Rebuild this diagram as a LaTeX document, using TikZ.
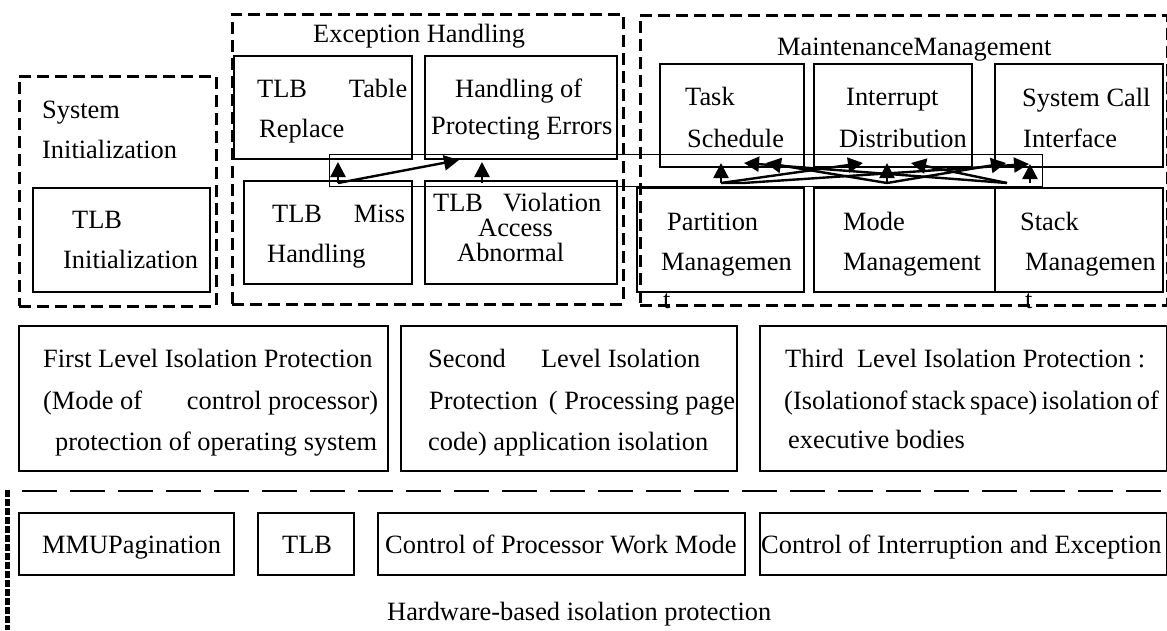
\documentclass[tikz,border=0pt]{standalone}
\usepackage{fontspec}
\setmainfont{Liberation Serif}
\usetikzlibrary{arrows.meta}

% \panel[style]{name}{x1}{y1}{x2}{y2}: a rectangle node given by its corners
\newcommand\panel[6][box]{%
  \node[#1, minimum width={(#5)-(#3)}, minimum height={(#6)-(#4)}] (#2) at (#3,#4) {};}

\begin{document}
\begin{tikzpicture}[x=1pt,y=-1pt,
  box/.style={draw, line width=1.6pt, inner sep=0pt, anchor=north west},
  group/.style={draw, line width=2.8pt, dash pattern=on 12pt off 6pt,
                inner sep=0pt, anchor=north west},
  frame/.style={draw, line width=0.9pt, inner sep=0pt, anchor=north west},
  txt/.style={inner sep=0pt, anchor=base west, font=\fontsize{26.4}{30}\selectfont},
  flow/.style={line width=2.4pt, -{Triangle[length=15pt,width=15pt]}},
  layer/.style={line width=2.4pt, dash pattern=on 35pt off 13pt},
  rail/.style={line width=5pt, dash pattern=on 7pt off 2pt},
]
\useasboundingbox (0,0) rectangle (1167,630);

% ---------------- System initialization ----------------
\panel[group]{sysinit}{18}{75}{215}{305}
\panel{tlbinit}{32}{187}{209}{291}
\node[txt] (sysinitA) at (42,118) {System};
\node[txt] (sysinitB) at (42,158) {Initialization};
\node[txt] (tlbinitA) at (72,228) {TLB};
\node[txt] (tlbinitB) at (63,268) {Initialization};

% ---------------- Exception handling ----------------
\panel[group]{exc}{231}{13}{622}{303}
\node[txt] (excT) at (313,42) {Exception Handling};
\panel{replace}{233}{55}{411}{158}
\panel{perr}{424}{55}{616}{158}
\panel{miss}{243}{180}{411}{283}
\panel{viol}{424}{180}{616}{283}
\node[txt] (replaceA) at (257,97) {\makebox[150pt][l]{TLB\hfill Table}};
\node[txt] (replaceB) at (259,137) {Replace};
\node[txt] (perrA) at (455,97) {Handling of};
\node[txt] (perrB) at (431,134) {Protecting Errors};
\node[txt] (missA) at (272,222) {\makebox[133pt][l]{TLB\hfill Miss}};
\node[txt] (missB) at (267,262) {Handling};
\node[txt] (violA) at (433,211) {\makebox[168pt][l]{TLB\hfill Violation}};
\node[txt] (violB) at (478,236) {Access};
\node[txt] (violC) at (457,261) {Abnormal};

% ---------------- Maintenance management ----------------
\panel[group]{maint}{639}{14}{1166}{304}
\node[txt] (maintT) at (777,55) {MaintenanceManagement};
\panel{task}{659}{63}{803}{166}
\panel{intr}{813}{63}{971}{166}
\panel{scall}{994}{63}{1162}{166}
\panel{part}{636}{187}{803}{291}
\panel{mode}{813}{187}{994}{291}
\panel{stack}{994}{187}{1162}{291}
\node[txt] (taskA) at (685,105) {Task};
\node[txt] (taskB) at (687,147) {Schedule};
\node[txt] (intrA) at (846,105) {Interrupt};
\node[txt] (intrB) at (839,147) {Distribution};
\node[txt] (scallA) at (1022,106) {System Call};
\node[txt] (scallB) at (1023,147) {Interface};
\node[txt] (partA) at (667,230) {Partition};
\node[txt] (partB) at (661,270) {Managemen};
\node[txt] (partC) at (663,308) {t};
\node[txt] (modeA) at (843,230) {Mode};
\node[txt] (modeB) at (843,270) {Management};
\node[txt] (stackA) at (1020,230) {Stack};
\node[txt] (stackB) at (1025,270) {Managemen};
\node[txt] (stackC) at (1025,308) {t};

% thin frame around the dependency arrows
\panel[frame]{links}{329}{154}{1042}{186}

% exception handling dependencies
\coordinate (missOut) at (338,183);
\coordinate (violOut) at (482,183);
\coordinate (replaceIn) at (338,162);
\coordinate (perrInA) at (459,160);
\coordinate (perrInB) at (482,162);
\draw[flow] (missOut) -- (replaceIn);
\draw[flow] (missOut) -- (perrInA);
\draw[flow] (violOut) -- (perrInB);

% maintenance dependencies
\coordinate (partOutA) at (721,183);
\coordinate (partOutB) at (743,183);
\coordinate (modeOut) at (887,183);
\coordinate (stackOutA) at (1007,183);
\coordinate (stackOutB) at (1030,183);
\coordinate (taskInA) at (721,163);
\coordinate (taskInB) at (744,163);
\coordinate (taskInC) at (766,163);
\coordinate (intrInA) at (863,163);
\coordinate (intrInB) at (887,163);
\coordinate (intrInC) at (911,163);
\coordinate (scallInA) at (1006,163);
\coordinate (scallInB) at (1029,164);
\coordinate (scallInC) at (1030,164);
\draw[flow] (partOutA) -- (taskInA);
\draw[flow] (partOutA) -- (intrInA);
\draw[flow] (partOutA) -- (partOutB) -- (scallInB);
\draw[flow] (modeOut) -- (taskInC);
\draw[flow] (modeOut) -- (intrInB);
\draw[flow] (modeOut) -- (scallInA);
\draw[flow] (stackOutA) -- (taskInB);
\draw[flow] (stackOutA) -- (intrInC);
\draw[flow] (stackOutB) -- (scallInC);

% ---------------- Isolation levels ----------------
\panel{lvl1}{18}{325}{387}{470}
\panel{lvl2}{400}{325}{736}{470}
\panel{lvl3}{759}{325}{1166}{470}
\node[txt] (lvl1A) at (43,367) {First Level Isolation Protection};
\node[txt] (lvl1B) at (43,409) {\makebox[335pt][l]{(Mode of\hfill control processor)}};
\node[txt] (lvl1C) at (55,450) {protection of operating system};
\node[txt] (lvl2A) at (428,367) {\makebox[272pt][l]{Second\hfill Level Isolation}};
\node[txt] (lvl2B) at (429,409) {\makebox[306pt][l]{Protection\hfill ( Processing page}};
\node[txt] (lvl2C) at (428,450) {code) application isolation};
\node[txt] (lvl3A) at (785,367) {Third\ \ Level Isolation Protection :};
\node[txt] (lvl3B) at (784,409) {\spaceskip=0.16em\relax (Isolationof stack space) isolation of};
\node[txt] (lvl3C) at (788,448) {executive bodies};

% ---------------- Hardware layer ----------------
\coordinate (layerL) at (22,491);
\coordinate (layerR) at (1167,491);
\draw[layer] (layerL) -- (layerR);
\coordinate (railTop) at (7,490);
\coordinate (railBot) at (7,630);
\draw[rail] (railTop) -- (railBot);
\panel{mmu}{18}{512}{233}{574}
\panel{tlb}{257}{512}{353}{574}
\panel{cpu}{377}{512}{744}{574}
\panel{irq}{759}{512}{1166}{574}
\node[txt] (mmuT) at (42,553) {MMUPagination};
\node[txt] (tlbT) at (282,553) {TLB};
\node[txt] (cpuT) at (385,553) {Control of Processor Work Mode};
\node[txt] (irqT) at (761,553) {Control of Interruption and Exception};
\node[txt] (hwT) at (387,620) {Hardware-based isolation protection};
\end{tikzpicture}
\end{document}
